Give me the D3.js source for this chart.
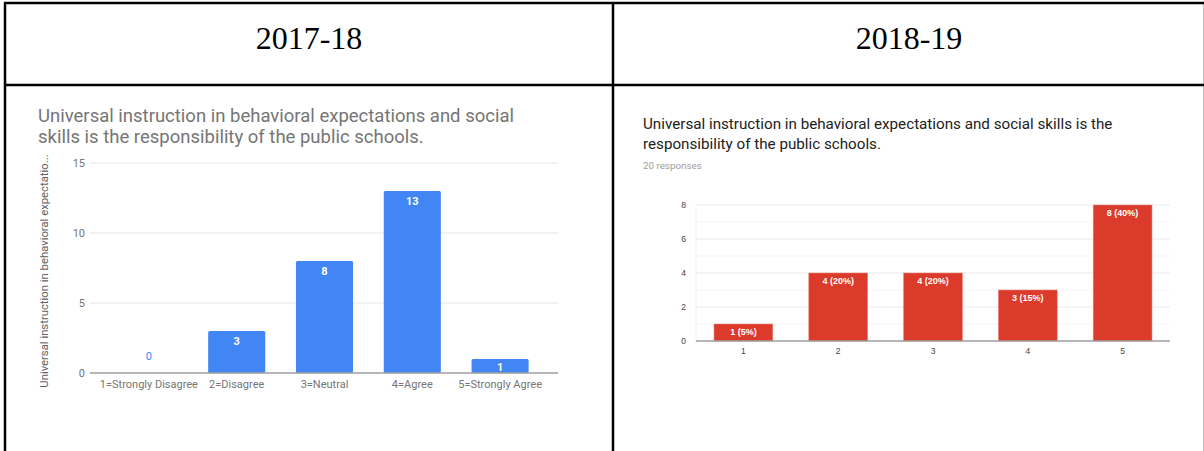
<html>
<head>
<script src="https://d3js.org/d3.v7.min.js"></script>
<style>
  body { margin: 0; background: #fff; }
  svg { display: block; }
</style>
</head>
<body>
<script>
// header row of the table
var years = ["2017-18", "2018-19"]

// 2017-18 chart
var leftTitle = ["Universal instruction in behavioral expectations and social",
                 "skills is the responsibility of the public schools."]
var leftAxisTitle = "Universal instruction in behavioral expectatio..."
var leftCategories = ["1=Strongly Disagree", "2=Disagree", "3=Neutral", "4=Agree", "5=Strongly Agree"]
var leftValues = [0, 3, 8, 13, 1]
var leftTicks = [0, 5, 10, 15]

// 2018-19 chart
var rightTitle = ["Universal instruction in behavioral expectations and social skills is the",
                  "responsibility of the public schools."]
var rightResponses = 20
var rightCategories = ["1", "2", "3", "4", "5"]
var rightValues = [1, 4, 4, 3, 8]
var rightTicks = [0, 2, 4, 6, 8]
var rightMinorTicks = [1, 3, 5, 7]

var svg = d3.select("body").append("svg")
	.attr("width", 1204)
	.attr("height", 451)

// ---- table frame ----
var colX = [5, 613, 1205]
svg.selectAll("text.year")
	.data(years)
	.enter().append("text")
	.attr("class", "year")
	.attr("x", function(d, i) { return (colX[i] + colX[i + 1]) / 2 })
	.attr("y", 49)
	.attr("text-anchor", "middle")
	.attr("font-family", "Liberation Serif, Times New Roman, serif")
	.attr("font-size", 32)
	.attr("fill", "#000")
	.text(function(d) { return d })

var frame = svg.append("g").attr("stroke", "#000").attr("stroke-width", 2.5)
frame.append("line").attr("x1", 4).attr("x2", 1204).attr("y1", 3).attr("y2", 3)
frame.append("line").attr("x1", 4).attr("x2", 1204).attr("y1", 85).attr("y2", 85)
colX.forEach(function(x) {
	frame.append("line").attr("x1", x).attr("x2", x).attr("y1", 2).attr("y2", 451)
})

// wrapped title: one text element, one tspan per line
function title(g, lines, x, y, lh, size, color) {
	g.append("text")
		.attr("font-family", "Roboto, sans-serif")
		.attr("font-size", size)
		.attr("fill", color)
		.selectAll("tspan")
		.data(lines)
		.enter().append("tspan")
		.attr("x", x)
		.attr("y", function(d, i) { return y + i * lh })
		.text(function(d) { return d })
}

// ---- left chart (2017-18) ----
var L = svg.append("g")

title(L, leftTitle, 38, 121.5, 21.7, 18.5, "#757575")

var lx = d3.scaleBand().domain(leftCategories).range([105, 544]).paddingInner(0.35).paddingOuter(0.175)
var ly = d3.scaleLinear().domain([0, 15]).range([373, 163])

L.append("g")
	.selectAll("line")
	.data(leftTicks.slice(1))
	.enter().append("line")
	.attr("x1", 90).attr("x2", 558)
	.attr("y1", function(d) { return ly(d) }).attr("y2", function(d) { return ly(d) })
	.attr("stroke", "#e6e6e6")
	.attr("stroke-width", 1)

L.append("g")
	.selectAll("text")
	.data(leftTicks)
	.enter().append("text")
	.attr("x", 85)
	.attr("y", function(d) { return ly(d) + 4 })
	.attr("text-anchor", "end")
	.attr("font-family", "Roboto, sans-serif")
	.attr("font-size", 11)
	.attr("fill", "#757575")
	.text(function(d) { return d })

L.append("g")
	.selectAll("rect")
	.data(leftValues)
	.enter().append("rect")
	.attr("x", function(d, i) { return lx(leftCategories[i]) })
	.attr("y", function(d) { return ly(d) })
	.attr("width", lx.bandwidth())
	.attr("height", function(d) { return ly(0) - ly(d) })
	.attr("rx", 1.5)
	.attr("fill", "#4285f4")

L.append("line")
	.attr("x1", 90).attr("x2", 558)
	.attr("y1", ly(0)).attr("y2", ly(0))
	.attr("stroke", "#9e9e9e")
	.attr("stroke-width", 1.5)

L.append("g")
	.selectAll("text")
	.data(leftValues)
	.enter().append("text")
	.attr("x", function(d, i) { return lx(leftCategories[i]) + lx.bandwidth() / 2 })
	.attr("y", function(d) { return d > 0 ? Math.min(ly(d) + 13.5, ly(0) - 2.5) : ly(d) - 13 })
	.attr("text-anchor", "middle")
	.attr("font-family", "Roboto, sans-serif")
	.attr("font-size", 11)
	.attr("font-weight", function(d) { return d > 0 ? "bold" : "normal" })
	.attr("fill", function(d) { return d > 0 ? "#fff" : "#4285f4" })
	.text(function(d) { return d })

L.append("g")
	.selectAll("text")
	.data(leftCategories)
	.enter().append("text")
	.attr("x", function(d) { return lx(d) + lx.bandwidth() / 2 })
	.attr("y", 388)
	.attr("text-anchor", "middle")
	.attr("font-family", "Roboto, sans-serif")
	.attr("font-size", 11)
	.attr("fill", "#757575")
	.text(function(d) { return d })

L.append("text")
	.attr("transform", "translate(48,271) rotate(-90)")
	.attr("text-anchor", "middle")
	.attr("font-family", "Roboto, sans-serif")
	.attr("font-size", 11.3)
	.attr("fill", "#616161")
	.text(leftAxisTitle)

// ---- right chart (2018-19) ----
var R = svg.append("g")

title(R, rightTitle, 643, 129, 20, 15.2, "#212121")

R.append("text")
	.attr("x", 643)
	.attr("y", 169)
	.attr("font-family", "Roboto, sans-serif")
	.attr("font-size", 9.8)
	.attr("fill", "#9e9e9e")
	.text(rightResponses + " responses")

var rx = d3.scaleBand().domain(rightCategories).range([696, 1170]).paddingInner(0.38).paddingOuter(0.19)
var ry = d3.scaleLinear().domain([0, 8]).range([341, 205])

R.append("g")
	.selectAll("line")
	.data(rightMinorTicks)
	.enter().append("line")
	.attr("x1", 696).attr("x2", 1170)
	.attr("y1", function(d) { return ry(d) }).attr("y2", function(d) { return ry(d) })
	.attr("stroke", "#f5f5f5")

R.append("g")
	.selectAll("line")
	.data(rightTicks.slice(1))
	.enter().append("line")
	.attr("x1", 696).attr("x2", 1170)
	.attr("y1", function(d) { return ry(d) }).attr("y2", function(d) { return ry(d) })
	.attr("stroke", "#ebebeb")

R.append("line")
	.attr("x1", 696).attr("x2", 696)
	.attr("y1", ry(8)).attr("y2", ry(0))
	.attr("stroke", "#f2f2f2")

R.append("g")
	.selectAll("text")
	.data(rightTicks)
	.enter().append("text")
	.attr("x", 686)
	.attr("y", function(d) { return ry(d) + 3 })
	.attr("text-anchor", "end")
	.attr("font-family", "Liberation Sans, Arial, sans-serif")
	.attr("font-size", 8.5)
	.attr("fill", "#444")
	.text(function(d) { return d })

R.append("g")
	.selectAll("rect")
	.data(rightValues)
	.enter().append("rect")
	.attr("x", function(d, i) { return rx(rightCategories[i]) })
	.attr("y", function(d) { return ry(d) })
	.attr("width", rx.bandwidth())
	.attr("height", function(d) { return ry(0) - ry(d) })
	.attr("fill", "#dc3a2a")
	.attr("stroke", "#e8847a")
	.attr("stroke-width", 0.6)

R.append("line")
	.attr("x1", 696).attr("x2", 1170)
	.attr("y1", ry(0)).attr("y2", ry(0))
	.attr("stroke", "#9e9e9e")
	.attr("stroke-width", 1.5)

R.append("g")
	.selectAll("text")
	.data(rightValues)
	.enter().append("text")
	.attr("x", function(d, i) { return rx(rightCategories[i]) + rx.bandwidth() / 2 })
	.attr("y", function(d) { return ry(d) + 10.5 })
	.attr("text-anchor", "middle")
	.attr("font-family", "Liberation Sans, Arial, sans-serif")
	.attr("font-size", 9)
	.attr("font-weight", "bold")
	.attr("fill", "#fff")
	.text(function(d) { return d + " (" + Math.round(d / rightResponses * 100) + "%)" })

R.append("g")
	.selectAll("text")
	.data(rightCategories)
	.enter().append("text")
	.attr("x", function(d) { return rx(d) + rx.bandwidth() / 2 })
	.attr("y", 354)
	.attr("text-anchor", "middle")
	.attr("font-family", "Liberation Sans, Arial, sans-serif")
	.attr("font-size", 8.5)
	.attr("fill", "#444")
	.text(function(d) { return d })
</script>
</body>
</html>
